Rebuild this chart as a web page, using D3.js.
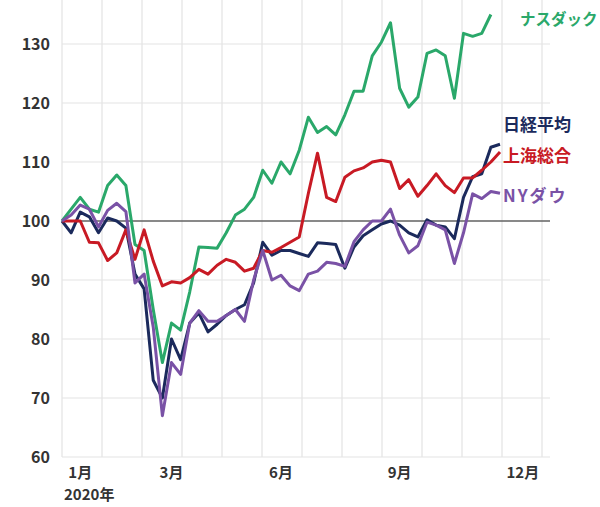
<!DOCTYPE html>
<html><head><meta charset="utf-8">
<script src="https://cdn.jsdelivr.net/npm/d3@7"></script>
<style>body{margin:0;background:#fff}text{font-family:"Noto Sans CJK JP","Noto Sans",sans-serif}</style>
</head><body><svg id="c" width="600" height="507"></svg>
<script>
// weekly index values, 2020-01 start = 100
const nasdaq = [100,102,104,102,101.5,106,107.8,106,96,95,85,76,82.7,81.5,88,95.6,95.5,95.4,98,101,102,104,108.6,106.4,110,108,112,117.6,115,116,114.6,118,122,122,128,130.3,133.6,122.5,119.3,121,128.4,129,128,120.8,131.8,131.3,131.8,135];
const nikkei = [100,98,101.5,100.7,98,100.5,100,98.8,91,88.5,73,70,80,76.5,82.7,84.4,81.2,82.5,84,85,85.8,89.5,96.4,94.2,95,95,94.5,94,96.3,96.2,96,92,95.6,97.5,98.5,99.5,100,99.3,98,97.3,100.2,99.3,99,97,104,107.5,108,112.5,113];
const shanghai = [100,100,100,96.4,96.3,93.3,94.6,98.5,93.5,98.5,93.2,89,89.7,89.5,90.4,91.8,91,92.5,93.5,93,91.5,92,95,94.7,95.5,96.4,97.3,104.7,111.5,104,103.3,107.4,108.5,109,110,110.3,110,105.5,107,104.2,106,108,106,104.8,107.3,107.3,108.6,110,111.7];
const nydow = [100,101,102.7,102,99,101.8,103,101.6,89.5,91,82,67,76,74,82.7,84.8,83,83,84,85,83,90,95,90,90.8,89,88.2,91,91.5,93,92.8,92.3,96.5,98.5,100,100,102,97.6,94.6,95.8,99.8,99.3,98.5,92.8,98,104.6,103.8,105,104.7];
const yTicks = [60,70,80,90,100,110,120,130];
const months = ["1月","3月","6月","9月","12月"];
const monthWeek = [2,12,24,37,50.5];
const series = [
  {name:"ナスダック", data:nasdaq, color:"#2aa86a"},
  {name:"日経平均", data:nikkei, color:"#1b2a5c"},
  {name:"上海総合", data:shanghai, color:"#c81a24"},
  {name:"NYダウ", data:nydow, color:"#7a52a6"}
];
const labelY = {"ナスダック":133.3,"日経平均":115.3,"上海総合":110,"NYダウ":103.2};
const labelX = {"ナスダック":520,"日経平均":503,"上海総合":503,"NYダウ":503};

const svg = d3.select("#c");
const x = d3.scaleLinear().domain([0,48]).range([62,500]);
const y = d3.scaleLinear().domain([60,130]).range([457,44]);

// grid
const gx = d3.range(62,560,40);
svg.selectAll(".vg").data(gx).enter().append("line")
  .attr("x1",d=>d).attr("x2",d=>d).attr("y1",0).attr("y2",457)
  .attr("stroke","#e3e3e3").attr("stroke-width",1.2);
svg.selectAll(".hg").data(d3.range(60,140,10)).enter().append("line")
  .attr("x1",62).attr("x2",550).attr("y1",d=>y(d)).attr("y2",d=>y(d))
  .attr("stroke","#e3e3e3").attr("stroke-width",1.2);
svg.append("line").attr("x1",62).attr("x2",550).attr("y1",y(100)).attr("y2",y(100))
  .attr("stroke","#222").attr("stroke-width",1.2);

svg.selectAll(".yt").data(yTicks).enter().append("text")
  .attr("x",50).attr("y",d=>y(d)+6).attr("text-anchor","end")
  .attr("font-size",16).attr("font-weight","bold").attr("fill","#333").text(d=>d);
svg.selectAll(".mt").data(months).enter().append("text")
  .attr("x",(d,i)=>x(monthWeek[i])).attr("y",478).attr("text-anchor","middle")
  .attr("font-size",15).attr("font-weight","bold").attr("fill","#333").text(d=>d);
svg.append("text").attr("x",64).attr("y",500).attr("font-size",15).attr("font-weight","bold")
  .attr("fill","#333").text("2020年");

const line = d3.line().x((d,i)=>x(i)).y(d=>y(d));
series.forEach(s=>{
  svg.append("path").attr("d",line(s.data)).attr("fill","none")
    .attr("stroke",s.color).attr("stroke-width",3).attr("stroke-linejoin","round");
  svg.append("text").attr("x",labelX[s.name]).attr("y",y(labelY[s.name]))
    .attr("font-size",s.name==="ナスダック"?15.5:17).attr("font-weight","bold").attr("fill",s.color)
    .attr("letter-spacing",s.name==="NYダウ"?2:0).text(s.name);
});
</script></body></html>
